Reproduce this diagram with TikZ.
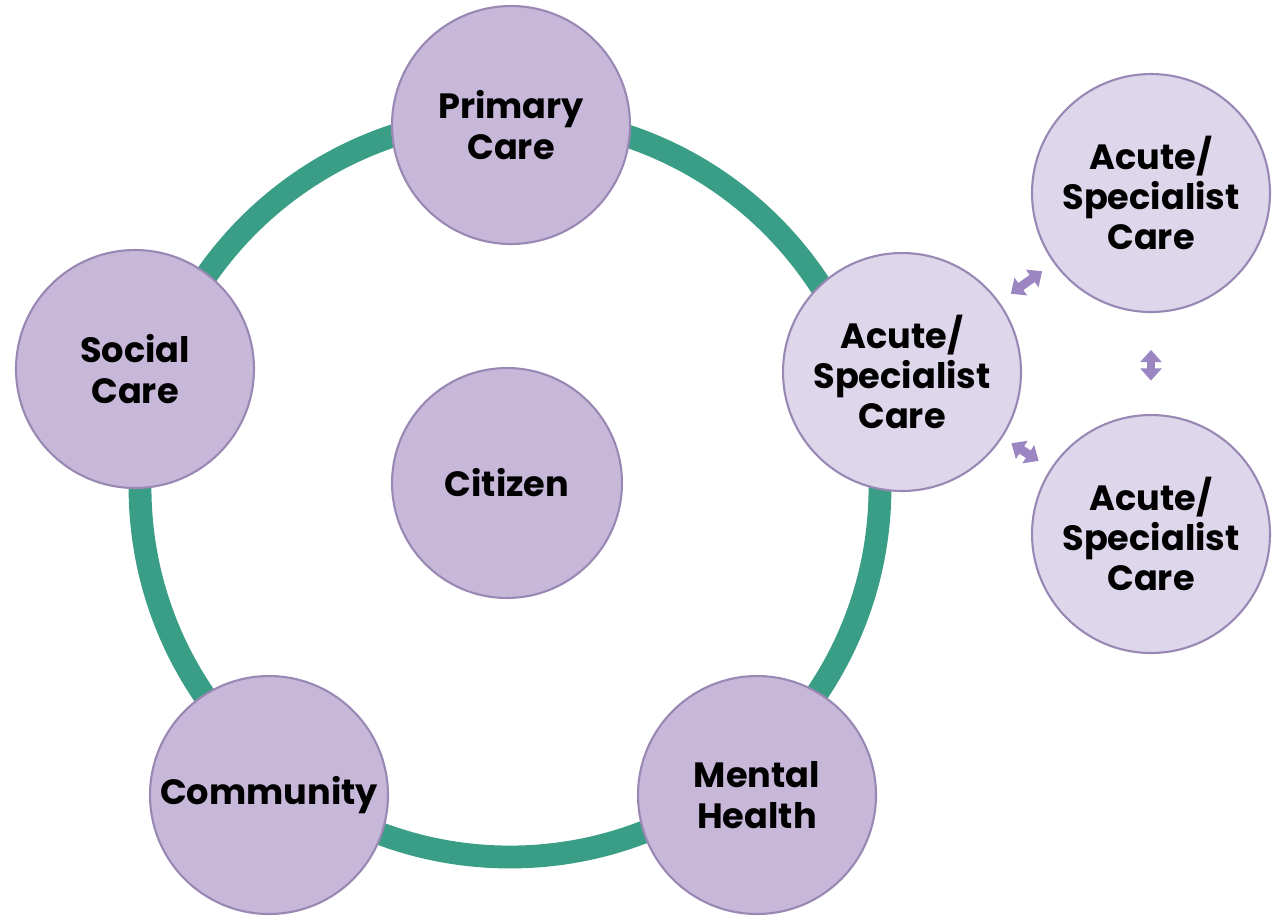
\documentclass[tikz,border=0pt]{standalone}
\usepackage{fontspec}
\setmainfont{Poppins}
\usetikzlibrary{arrows.meta}
\definecolor{ringgreen}{HTML}{3A9E86}
\definecolor{lilac}{HTML}{C7B8D9}
\definecolor{lilaclight}{HTML}{DED6EA}
\definecolor{lilacedge}{HTML}{9A88B4}
\definecolor{arrowlilac}{HTML}{9B86C2}
\begin{document}
\begin{tikzpicture}[x=0.02cm,y=-0.02cm,
    circ/.style={circle,draw=lilacedge,line width=1.2pt,fill=lilac,minimum size=4.76cm,
      align=center,font=\fontsize{20}{23}\selectfont\bfseries,inner sep=0pt},
    acute/.style={circ,fill=lilaclight},
    dbl/.style={{Triangle[width=12pt,length=7pt]}-{Triangle[width=12pt,length=7pt]},
      line width=5pt,arrowlilac}]
  \useasboundingbox (0,0) rectangle (1281,921);
  \draw[ringgreen,line width=13pt] (510,487) circle (370); % the ring
  \node[circ] (prim) at (511,125) {Primary\\Care};
  \node[circ] (soc) at (135,369) {Social\\Care};
  \node[circ,minimum size=4.6cm] (cit) at (507,483) {Citizen};
  \node[acute] (acu) at (902,372) {Acute/\\Specialist\\Care};
  \node[acute] (acua) at (1151,193) {Acute/\\Specialist\\Care};
  \node[acute] (acub) at (1151,534) {Acute/\\Specialist\\Care};
  \node[circ] (comm) at (269,795) {Community};
  \node[circ] (ment) at (757,795) {Mental\\Health};
  % arrows between the acute ones
  \draw[dbl,shorten <=8pt,shorten >=8pt] (acu) -- (acua);
  \draw[dbl,shorten <=6pt,shorten >=8pt] (acu) -- (acub);
  \draw[dbl,shorten <=21pt,shorten >=19pt] (acua) -- (acub);
\end{tikzpicture}
\end{document}
